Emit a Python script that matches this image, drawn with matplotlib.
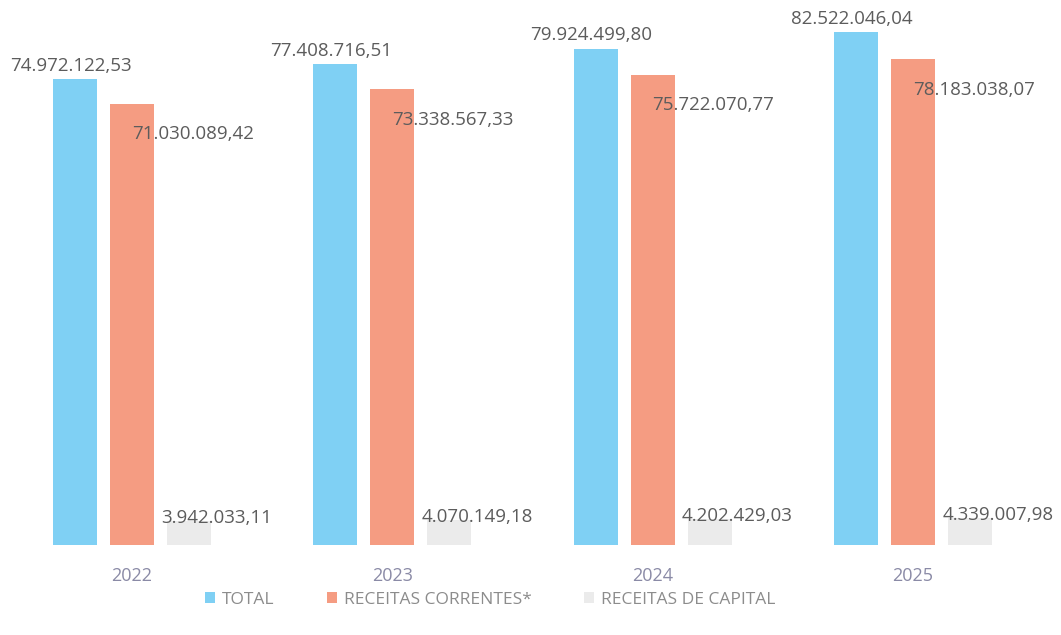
import matplotlib.pyplot as plt
import numpy as np

plt.rcParams["font.family"] = ["Open Sans", "DejaVu Sans"]

years = ["2022", "2023", "2024", "2025"]
total = [74972122.53, 77408716.51, 79924499.80, 82522046.04]
correntes = [71030089.42, 73338567.33, 75722070.77, 78183038.07]
capital = [3942033.11, 4070149.18, 4202429.03, 4339007.98]
legend_labels = ["TOTAL", "RECEITAS CORRENTES*", "RECEITAS DE CAPITAL"]

c_total = "#7fd0f4"
c_corr = "#f59c82"
c_cap = "#ebebeb"
txt = "#5c5c5c"


def fmt(v):
    s = f"{v:,.2f}"
    return s.replace(",", "X").replace(".", ",").replace("X", ".")


fig = plt.figure(figsize=(10.61, 6.35), dpi=100)
ax = fig.add_axes([0, 0.1417, 1, 0.8315])

x = np.arange(len(years))
w = 0.169
off = 0.219

ax.bar(x - off, total, w, color=c_total, label=legend_labels[0])
ax.bar(x, correntes, w, color=c_corr, label=legend_labels[1])
ax.bar(x + off, capital, w, color=c_cap, label=legend_labels[2])

ax.set_xlim(-0.507, 3.569)
ax.set_ylim(0, 85e6)
for s in ax.spines.values():
    s.set_visible(False)
ax.set_yticks([])
ax.set_xticks(x)
ax.set_xticklabels(years, color="#8a8aa6", fontsize=13)
ax.tick_params(axis="x", length=0, pad=16)

for i in range(len(years)):
    ax.annotate(fmt(total[i]), (x[i] - off, total[i]), xytext=(-3, 3),
                textcoords="offset points", ha="center", va="bottom",
                fontsize=13.5, color=txt)
    ax.annotate(fmt(correntes[i]), (x[i], correntes[i]), xytext=(0, -22),
                textcoords="offset points", ha="left", va="center",
                fontsize=13.5, color=txt)
    ax.annotate(fmt(capital[i]), (x[i] + off - w / 2, capital[i]), xytext=(-4, 2),
                textcoords="offset points", ha="left", va="center",
                fontsize=13.5, color=txt)

fig.legend(loc="center", bbox_to_anchor=(0.462, 0.055), ncol=3, frameon=False,
           fontsize=12.5, labelcolor="#8c8c8c", handlelength=0.6,
           handleheight=0.6, handletextpad=0.4, columnspacing=3.0)

fig.savefig("out.png", dpi=100)
